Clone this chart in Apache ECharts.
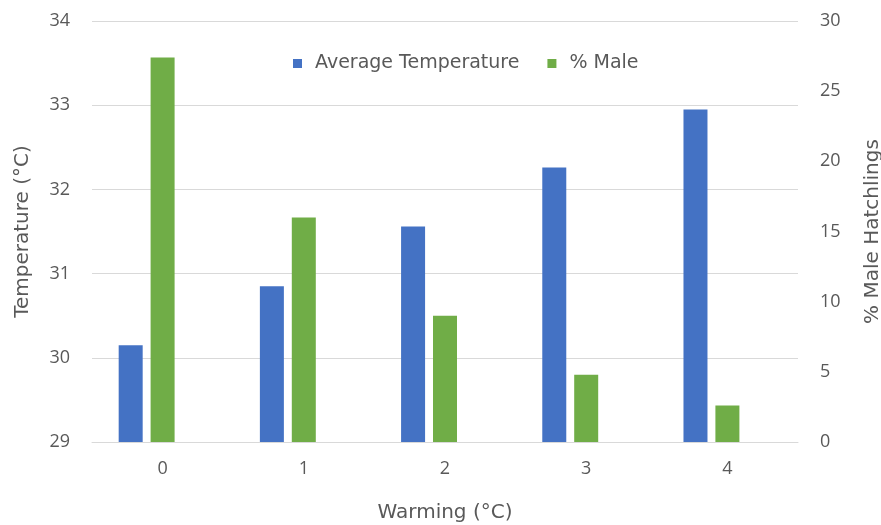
<!DOCTYPE html>
<html>
<head>
<meta charset="utf-8">
<script src="https://cdn.jsdelivr.net/npm/echarts@6/dist/echarts.min.js"></script>
<style>html,body{margin:0;padding:0;background:#fff;}#c{width:881px;height:525px;}</style>
</head>
<body>
<div id="c"></div>
<script>
var categories = ['0', '1', '2', '3', '4'];
var avgTemperature = [30.15, 30.85, 31.56, 32.26, 32.95];
var pctMale = [27.4, 16.0, 9.0, 4.8, 2.6];
var seriesNames = ['Average Temperature', '% Male'];
var axisTitles = { x: 'Warming (°C)', yLeft: 'Temperature (°C)', yRight: '% Male Hatchlings' };

var FONT = 'Open Sans';
var TFONT = 'DejaVu Sans';
var TXT = '#595959';
var chart = echarts.init(document.getElementById('c'));
chart.setOption({
  animation: false,
  backgroundColor: '#fff',
  textStyle: { fontFamily: FONT },
  grid: { left: 92, right: 83, top: 21, bottom: 83, containLabel: false, outerBoundsMode: 'none' },
  legend: {
    data: seriesNames,
    left: 288, top: 49,
    itemWidth: 9, itemHeight: 9, itemGap: 28,
    icon: 'rect',
    textStyle: { color: TXT, fontSize: 19, fontFamily: TFONT, padding: [0, 0, 0, 8] }
  },
  xAxis: {
    type: 'category',
    data: categories,
    name: axisTitles.x,
    nameLocation: 'middle',
    nameGap: 61,
    nameTextStyle: { color: TXT, fontSize: 20, fontFamily: TFONT },
    axisLine: { show: true, lineStyle: { color: '#d9d9d9', width: 1 } },
    axisTick: { show: false },
    axisLabel: { color: TXT, fontSize: 18, margin: 18, fontFamily: FONT }
  },
  yAxis: [
    {
      type: 'value', min: 29, max: 34, interval: 1,
      name: axisTitles.yLeft, nameLocation: 'middle', nameGap: 59,
      nameTextStyle: { color: TXT, fontSize: 20, fontFamily: TFONT },
      axisLine: { show: false }, axisTick: { show: false },
      axisLabel: { color: TXT, fontSize: 18, margin: 22, fontFamily: FONT },
      splitLine: { show: true, lineStyle: { color: '#d9d9d9', width: 1 } }
    },
    {
      type: 'value', min: 0, max: 30, interval: 5, position: 'right',
      name: axisTitles.yRight, nameLocation: 'middle', nameGap: 65,
      nameTextStyle: { color: TXT, fontSize: 20, fontFamily: TFONT },
      axisLine: { show: false }, axisTick: { show: false },
      axisLabel: { color: TXT, fontSize: 18, margin: 22, fontFamily: FONT },
      splitLine: { show: false }
    }
  ],
  series: [
    {
      name: seriesNames[0], type: 'bar', yAxisIndex: 0,
      data: avgTemperature, barWidth: 24, barGap: '33%',
      itemStyle: { color: '#4472C4' }
    },
    {
      name: seriesNames[1], type: 'bar', yAxisIndex: 1,
      data: pctMale, barWidth: 24, barGap: '33%',
      itemStyle: { color: '#70AD47' }
    },
    {
      name: 'spacer', type: 'bar', yAxisIndex: 0,
      data: categories.map(function () { return null; }), barWidth: 24, barGap: '33%',
      itemStyle: { color: 'rgba(0,0,0,0)' }, silent: true
    }
  ]
});
</script>
</body>
</html>
